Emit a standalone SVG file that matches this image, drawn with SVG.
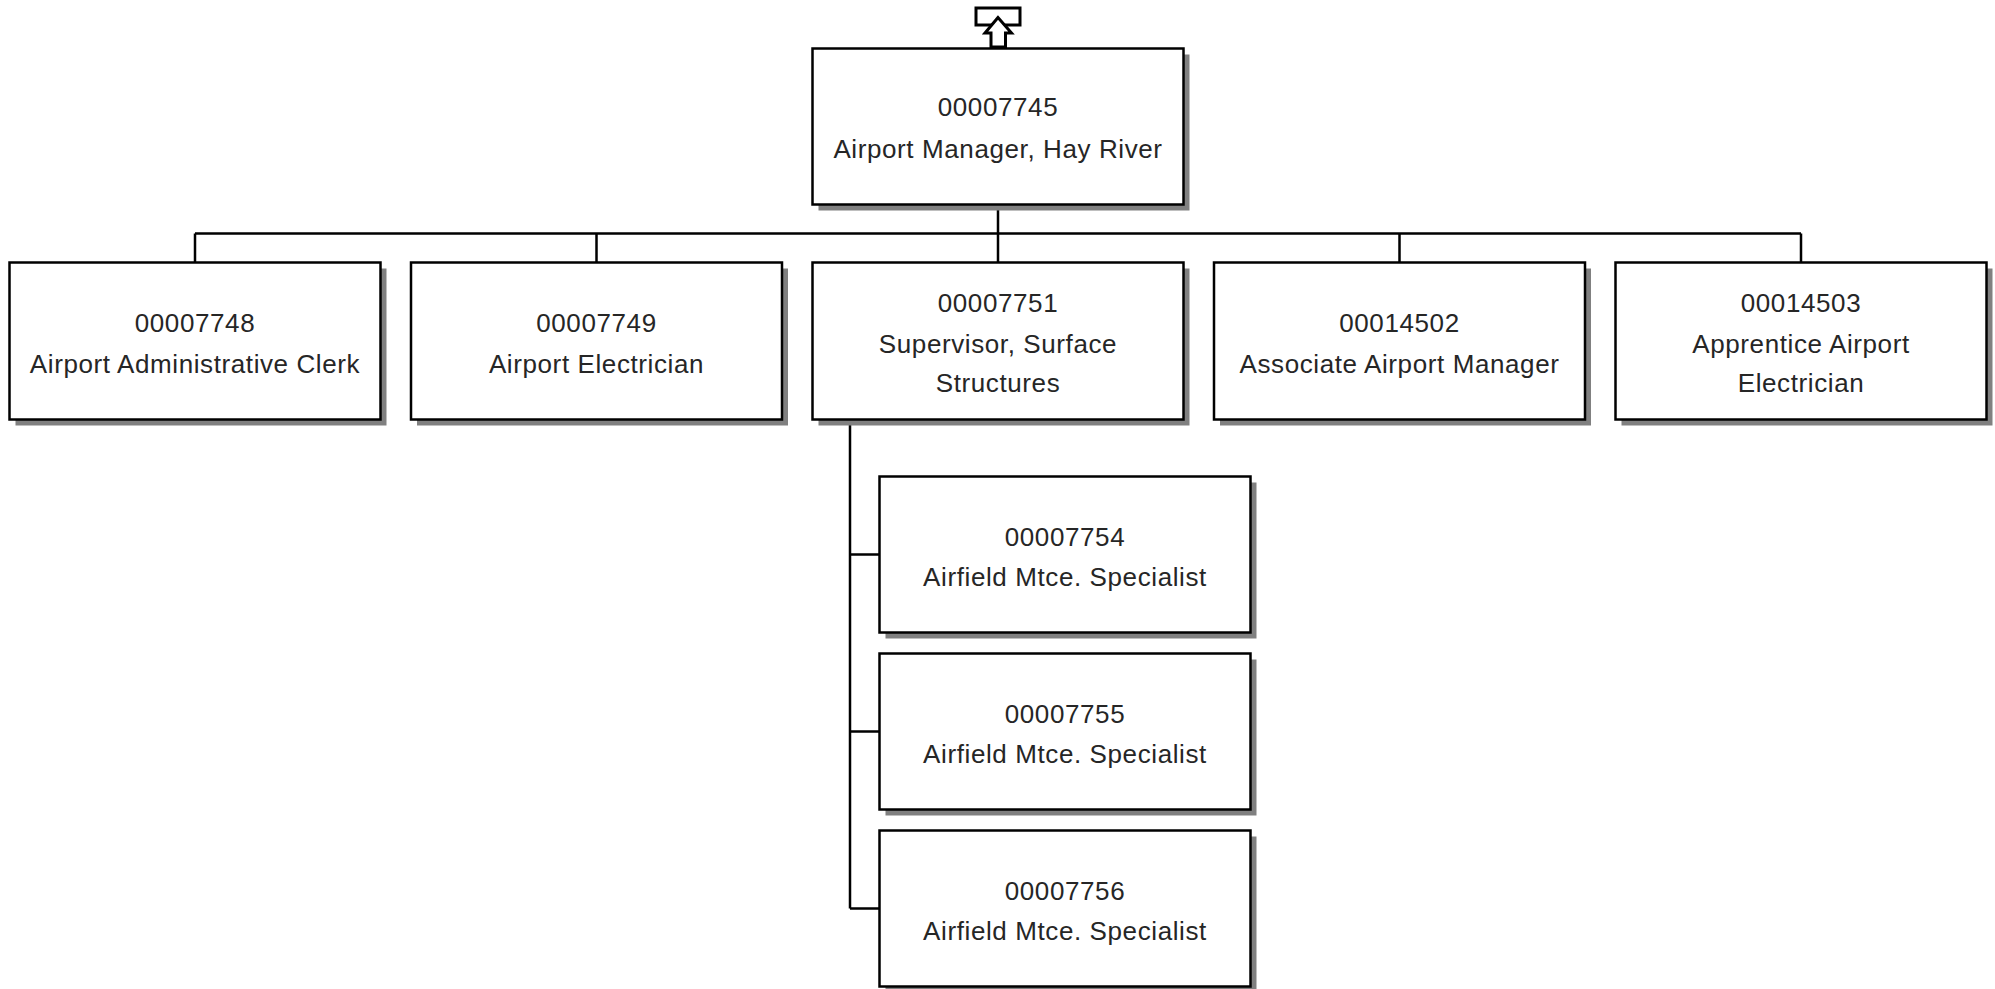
<svg xmlns="http://www.w3.org/2000/svg" width="1995" height="989" viewBox="0 0 1995 989">
<style>
.shadow{fill:#808080;stroke:none}
.box{fill:#ffffff;stroke:#000000;stroke-width:2.5}
.conn{fill:none;stroke:#000000;stroke-width:2.5}
text{font-family:"Liberation Sans",Arial,sans-serif;font-size:26px;fill:#262626;text-anchor:middle;letter-spacing:0.6px}
</style>
<rect width="1995" height="989" fill="#ffffff"/>
<g id="connectors">
<path class="conn" d="M998 204.5V233.5M195 233.5H1801M195 233.5V262.5M596.5 233.5V262.5M998 233.5V262.5M1399.5 233.5V262.5M1801 233.5V262.5"/>
<path class="conn" d="M850 419.5V908.5M850 554.5H879.5M850 731.5H879.5M850 908.5H879.5"/>
</g>
<g id="up-arrow">
<rect x="976" y="8" width="44" height="17" fill="#ffffff" stroke="#000000" stroke-width="3"/>
<polygon points="998,17.5 985,33 991,33 991,47 1005.5,47 1005.5,33 1011.5,33" fill="#ffffff" stroke="#000000" stroke-width="3" stroke-linejoin="miter"/>
</g>
<g id="n00007745">
<rect class="shadow" x="818.5" y="54.5" width="371" height="156"/>
<rect class="box" x="812.5" y="48.5" width="371" height="156"/>
<text x="998" y="115.5">00007745</text>
<text x="998" y="158">Airport Manager, Hay River</text>
</g>
<g id="n00007748">
<rect class="shadow" x="15.5" y="268.5" width="371" height="157"/>
<rect class="box" x="9.5" y="262.5" width="371" height="157"/>
<text x="195" y="332">00007748</text>
<text x="195" y="373">Airport Administrative Clerk</text>
</g>
<g id="n00007749">
<rect class="shadow" x="417" y="268.5" width="371" height="157"/>
<rect class="box" x="411" y="262.5" width="371" height="157"/>
<text x="596.5" y="332">00007749</text>
<text x="596.5" y="373">Airport Electrician</text>
</g>
<g id="n00007751">
<rect class="shadow" x="818.5" y="268.5" width="371" height="157"/>
<rect class="box" x="812.5" y="262.5" width="371" height="157"/>
<text x="998" y="312">00007751</text>
<text x="998" y="353">Supervisor, Surface</text>
<text x="998" y="392">Structures</text>
</g>
<g id="n00014502">
<rect class="shadow" x="1220" y="268.5" width="371" height="157"/>
<rect class="box" x="1214" y="262.5" width="371" height="157"/>
<text x="1399.5" y="332">00014502</text>
<text x="1399.5" y="373">Associate Airport Manager</text>
</g>
<g id="n00014503">
<rect class="shadow" x="1621.5" y="268.5" width="371" height="157"/>
<rect class="box" x="1615.5" y="262.5" width="371" height="157"/>
<text x="1801" y="312">00014503</text>
<text x="1801" y="353">Apprentice Airport</text>
<text x="1801" y="392">Electrician</text>
</g>
<g id="n00007754">
<rect class="shadow" x="885.5" y="482.5" width="371" height="156"/>
<rect class="box" x="879.5" y="476.5" width="371" height="156"/>
<text x="1065" y="545.5">00007754</text>
<text x="1065" y="586">Airfield Mtce. Specialist</text>
</g>
<g id="n00007755">
<rect class="shadow" x="885.5" y="659.5" width="371" height="156"/>
<rect class="box" x="879.5" y="653.5" width="371" height="156"/>
<text x="1065" y="722.5">00007755</text>
<text x="1065" y="763">Airfield Mtce. Specialist</text>
</g>
<g id="n00007756">
<rect class="shadow" x="885.5" y="836.5" width="371" height="156"/>
<rect class="box" x="879.5" y="830.5" width="371" height="156"/>
<text x="1065" y="899.5">00007756</text>
<text x="1065" y="940">Airfield Mtce. Specialist</text>
</g>
</svg>
